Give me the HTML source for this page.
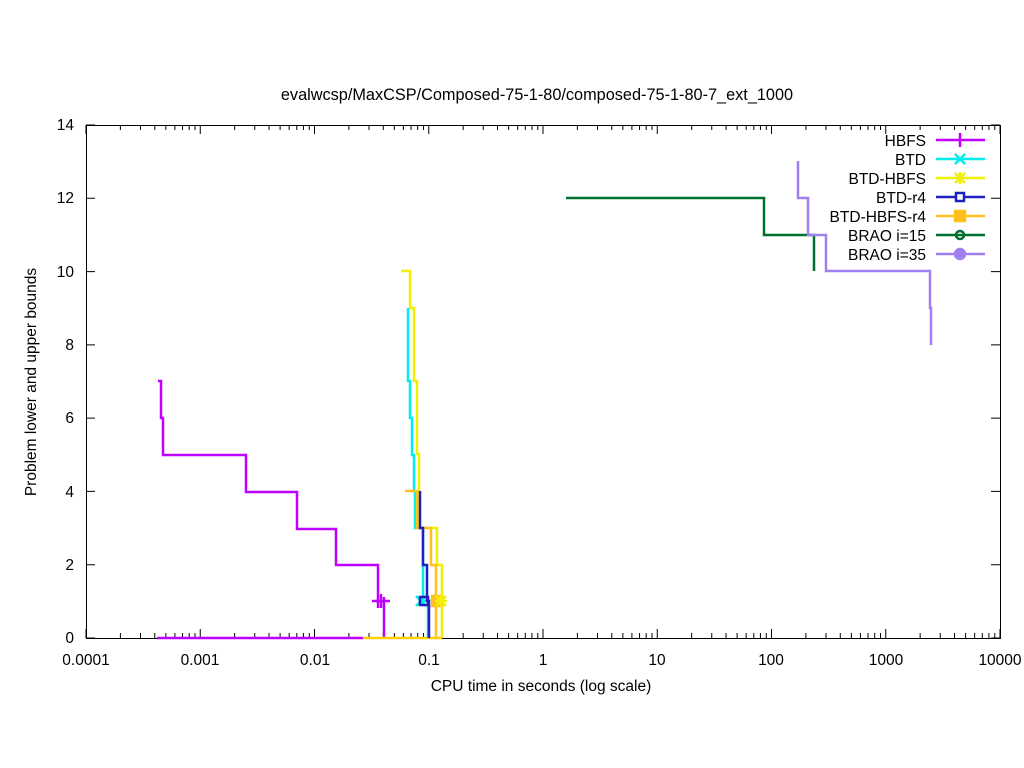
<!DOCTYPE html>
<html><head><meta charset="utf-8"><style>body{margin:0;background:#fff}svg{display:block}text{font-family:"Liberation Sans",sans-serif;font-size:15.5px;fill:#000}</style></head><body>
<svg width="1024" height="768" viewBox="0 0 1024 768" xmlns="http://www.w3.org/2000/svg">
<rect width="1024" height="768" fill="#fff"/>
<text x="537" y="100" text-anchor="middle" style="font-size:16.3px">evalwcsp/MaxCSP/Composed-75-1-80/composed-75-1-80-7_ext_1000</text>
<g id="ticks" stroke="#000" stroke-width="1" fill="none"></g>
<rect x="86.5" y="125.5" width="914" height="513" fill="none" stroke="#000"/>
<g text-anchor="end">
<text x="74" y="643">0</text><text x="74" y="570">2</text><text x="74" y="497">4</text><text x="74" y="423">6</text><text x="74" y="350">8</text><text x="74" y="277">10</text><text x="74" y="203">12</text><text x="74" y="130">14</text>
</g>
<g text-anchor="middle">
<text x="86" y="665">0.0001</text><text x="200" y="665">0.001</text><text x="315" y="665">0.01</text><text x="429" y="665">0.1</text><text x="543" y="665">1</text><text x="657" y="665">10</text><text x="771" y="665">100</text><text x="886" y="665">1000</text><text x="1000" y="665">10000</text>
</g>
<text x="541" y="691" text-anchor="middle">CPU time in seconds (log scale)</text>
<text transform="translate(36,382) rotate(-90)" text-anchor="middle">Problem lower and upper bounds</text>
<g fill="none" stroke-width="2.5">
<polyline stroke="#c000ff" points="158,381 161,381 161,418 163,418 163,455 246,455 246,492 297,492 297,529 336,529 336,565 378,565 378,608"/>
<polyline stroke="#c000ff" points="384,597 384,638"/>
<polyline stroke="#c000ff" points="157,638 363,638"/>
<polyline stroke="#ffd000" points="363,638 442,638"/>
<polyline stroke="#f0f000" points="401,271 410,271 410,308 414,308 414,381 417,381 417,454 419,454 419,528 437,528 437,565 442,565 442,638"/>
<polyline stroke="#00eeee" points="408,308 408,381 410,381 410,418 412,418 412,455 414,455 414,491 415,491 415,528 423,528 423,601 428,601 428,638"/>
<polyline stroke="#ffc020" points="405,491 417,491 417,528 431,528 431,565 436,565 436,638"/>
<polyline stroke="#2020c0" points="420,491 420,528 423,528 423,565 427,565 427,601 429,601 429,638"/>
<polyline stroke="#007030" points="566,198 764,198 764,235 814,235 814,271"/>
<polyline stroke="#a080f0" points="798,161 798,198 808,198 808,235 826,235 826,271 930,271 930,308 931,308 931,345"/>
</g>
<g stroke-width="2.5" fill="none">
<path stroke="#c000ff" d="M372,601H390M381,594V608"/>
<path stroke="#00eeee" d="M416,596l10,10M426,596l-10,10"/>
<rect x="420" y="597" width="8" height="8" stroke="#2020c0"/>
<rect x="432" y="596" width="10" height="10" fill="#ffc020" stroke="#ffc020"/>
<path stroke="#f0f000" d="M436,596l10,10M446,596l-10,10M441,595V607M435,601H447"/>
</g>
<g text-anchor="end">
<text x="926" y="146">HBFS</text><text x="926" y="165">BTD</text><text x="926" y="184">BTD-HBFS</text><text x="926" y="203">BTD-r4</text><text x="926" y="222">BTD-HBFS-r4</text><text x="926" y="241">BRAO i=15</text><text x="926" y="260">BRAO i=35</text>
</g>
<g stroke-width="2.5" fill="none">
<path stroke="#c000ff" d="M936,140H985M960,133V147"/>
<path stroke="#00eeee" d="M936,159H985M955,154l10,10M965,154l-10,10"/>
<path stroke="#f0f000" d="M936,178H985M955,173l10,10M965,173l-10,10M960,172V184"/>
<path stroke="#2020c0" d="M936,197H985"/><rect x="956" y="193" width="8" height="8" stroke="#2020c0" fill="#fff"/>
<path stroke="#ffc020" d="M936,216H985"/><rect x="955" y="211" width="10" height="10" fill="#ffc020" stroke="#ffc020"/>
<path stroke="#007030" d="M936,235H985"/><circle cx="960" cy="235" r="4" stroke="#007030"/>
<path stroke="#a080f0" d="M936,254H985"/><circle cx="960" cy="254" r="5" fill="#a080f0" stroke="#a080f0"/>
</g>
<script>
var g=document.getElementById('ticks'),d='';
for(var k=0;k<=8;k++){var x=86+k*114.25;d+='M'+x+',638v-9M'+x+',125v9';
 if(k<8)for(var m=2;m<10;m++){var xm=x+Math.log10(m)*114.25;d+='M'+xm+',638v-5M'+xm+',125v5';}}
for(var v=0;v<=14;v+=2){var y=638-v*36.643;d+='M86,'+y+'h9M1000,'+y+'h-9';}
var p=document.createElementNS('http://www.w3.org/2000/svg','path');p.setAttribute('d',d);g.appendChild(p);
</script>
</svg>
</body></html>
